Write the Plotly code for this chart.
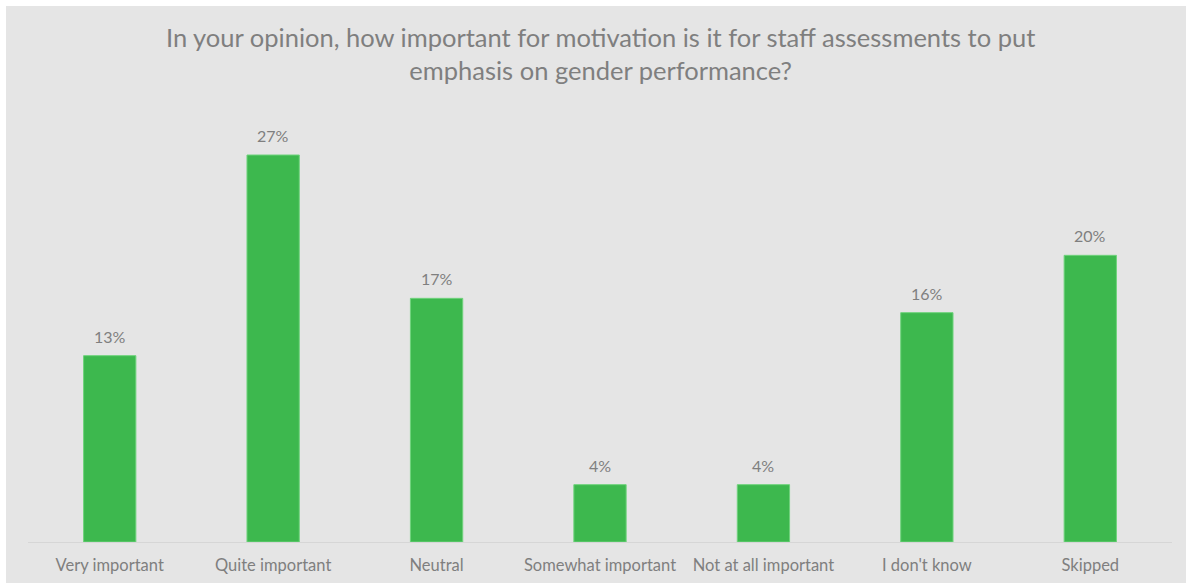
import plotly.graph_objects as go

categories = ["Very important", "Quite important", "Neutral", "Somewhat important",
              "Not at all important", "I don't know", "Skipped"]
shares = [13, 27, 17, 4, 4, 16, 20]
share_labels = [f"{v}%" for v in shares]

title_text = ("In your opinion, how important for motivation is it for staff assessments to put"
              "<br>emphasis on gender performance?")

BG = "#e5e5e5"
GREEN = "#3db84e"
TEXT = "#7f7f7f"
FONT = "Lato"

fig = go.Figure()
fig.add_trace(go.Bar(
    x=categories,
    y=shares,
    marker=dict(color=GREEN, line=dict(color="#6fd37c", width=1)),
    width=0.32,
    hoverinfo="skip",
))

for cat, val, lab in zip(categories, shares, share_labels):
    fig.add_annotation(x=cat, y=val, text=lab, showarrow=False,
                       yanchor="bottom", yshift=8,
                       font=dict(family=FONT, size=16, color=TEXT))

# chart title, centred over the panel
fig.add_annotation(xref="paper", yref="paper", x=0.5, y=1.135,
                   xanchor="center", yanchor="middle", showarrow=False,
                   text=title_text, align="center",
                   font=dict(family=FONT, size=25.5, color=TEXT))

# panel background with a thin white edge at top/left
fig.add_shape(type="rect", xref="paper", yref="paper",
              x0=-0.01923, x1=1.013, y0=-0.1, y1=1.2465,
              fillcolor=BG, line=dict(width=0), layer="below")

fig.update_layout(
    width=1186, height=583,
    margin=dict(l=28, r=14, t=112, b=41),
    paper_bgcolor="white",
    plot_bgcolor="rgba(0,0,0,0)",
    showlegend=False,
    font=dict(family=FONT, color=TEXT),
)
fig.update_xaxes(showline=True, linecolor="#d6d6d6", linewidth=1,
                 showgrid=False, ticks="", ticklabelstandoff=8, automargin=False,
                 tickfont=dict(family=FONT, size=16.5, color=TEXT))
fig.update_yaxes(range=[0, 30], visible=False, showgrid=False, zeroline=False,
                 automargin=False)

fig.write_html("out.html")
